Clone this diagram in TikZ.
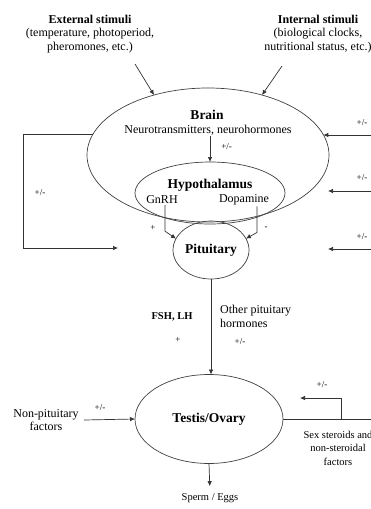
\documentclass[tikz,border=0pt]{standalone}
\usepackage{fontspec}
\setmainfont{Liberation Serif}
\usetikzlibrary{shapes.geometric,arrows.meta}
\begin{document}
\begin{tikzpicture}[x=1pt,y=-1pt,
    organ/.style={ellipse,draw=black!75,line width=0.7pt,inner sep=0pt,outer sep=0pt},
    txt/.style={font=\fontsize{12}{13.8}\selectfont,align=center,inner sep=1pt},
    head/.style={font=\fontsize{13.5}{15}\selectfont\bfseries,inner sep=1pt},
    small/.style={font=\fontsize{10.5}{13.5}\selectfont,align=center,inner sep=1pt},
    pm/.style={font=\fontsize{9}{10}\selectfont,inner sep=1pt},
    arr/.style={draw=black!80,line width=0.7pt,-{Latex[length=5pt,width=4.5pt]}},
    ln/.style={draw=black!80,line width=0.7pt}]
  \useasboundingbox (0,0) rectangle (371,509);

  \node[txt] (ext) at (90,34) {\textbf{External stimuli}\\(temperature, photoperiod,\\pheromones, etc.)};
  \node[txt] (int) at (318,34) {\textbf{Internal stimuli}\\(biological clocks,\\nutritional status, etc.)};

  \node[organ,minimum width=242pt,minimum height=134pt] (brain) at (208,155) {};
  \node[organ,minimum width=150pt,minimum height=62pt] (hypo) at (210,193) {};
  \node[organ,head,minimum width=76pt,minimum height=58pt] (pit) at (211,250) {Pituitary};
  \node[organ,head,minimum width=148pt,minimum height=89pt] (testis) at (209,419) {Testis/Ovary};

  \node[head] (brainlbl) at (207,115) {Brain};
  \node[txt] (neuro) at (208,130) {Neurotransmitters, neurohormones};
  \node[head] (hypolbl) at (210,185) {Hypothalamus};
  \node[txt] (gnrh) at (162,200) {GnRH};
  \node[txt] (dopa) at (244,200) {Dopamine};

  \coordinate (extin) at (135,64);
  \coordinate (intin) at (282,66);
  \draw[arr] (extin) -- (brain.132);
  \draw[arr] (intin) -- (brain.48);

  \draw[arr] (neuro.south -| hypo.north) -- (hypo.north) node[pm,pos=0.4,right=10pt] {+/-};
  \draw[arr] ([xshift=3pt]gnrh.south) -- ++(0,26) -- (pit.162);
  \draw[arr] ([xshift=13pt]dopa.south) -- ++(0,26) -- (pit.18);
  \node[pm] at (153,228) {+};
  \node[pm] at (266,228) {-};

  \coordinate (fbcorner) at (23,248);
  \coordinate (fbend) at (118,248);
  \draw[arr] (brain.170) -| (fbcorner) -- (fbend);
  \node[pm] at (40,193) {+/-};

  \coordinate (r1) at (372,135);
  \coordinate (r2s) at (372,191);
  \coordinate (r2e) at (328,191);
  \coordinate (r3s) at (372,249);
  \coordinate (r3e) at (328,249);
  \draw[arr] (r1) -- (r1 -| brain.10);
  \draw[arr] (r2s) -- (r2e);
  \draw[arr] (r3s) -- (r3e);
  \node[pm] at (362,123) {+/-};
  \node[pm] at (362,178) {+/-};
  \node[pm] at (362,237) {+/-};

  \draw[arr] (pit.south) -- (pit.south |- testis.north);
  \node[font=\fontsize{10.5}{12}\selectfont\bfseries] (fsh) at (172,317) {FSH, LH};
  \node[pm] at (178,340) {+};
  \node[txt,align=left,anchor=west] (other) at (219,316) {Other pituitary\\hormones};
  \node[pm] at (240,342) {+/-};

  \node[txt] (nonpit) at (46,420) {Non-pituitary\\factors};
  \draw[arr] ([xshift=4pt]nonpit.east) -- (testis.west);
  \node[pm] at (100,408) {+/-};

  \coordinate (sexout) at (372,419);
  \coordinate (sexup) at (341,398);
  \coordinate (sexback) at (300,398);
  \draw[ln] (testis.east) -- (sexout);
  \draw[arr] (testis.east -| sexup) -- (sexup) -- (sexback);
  \node[pm] at (322,385) {+/-};
  \node[small] (sexf) at (338,448) {Sex steroids and\\non-steroidal\\factors};

  \node[small] (sperm) at (210,498) {Sperm / Eggs};
  \draw[arr,shorten >=6pt] (testis.south) -- (sperm.north);
\end{tikzpicture}
\end{document}
